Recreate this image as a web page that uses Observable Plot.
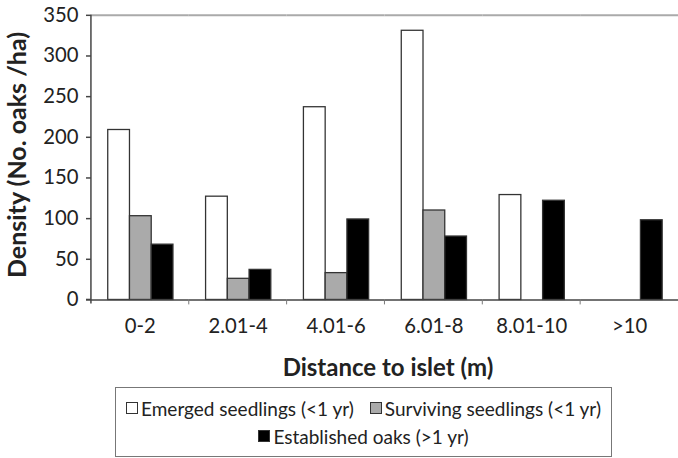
<!DOCTYPE html>
<html>
<head>
<meta charset="utf-8">
<script src="https://cdn.jsdelivr.net/npm/d3@7"></script>
<script src="https://cdn.jsdelivr.net/npm/@observablehq/plot@0.6"></script>
<style>
  html, body { margin: 0; padding: 0; background: #fff; overflow: hidden; }
  #wrap { position: relative; width: 678px; height: 458px; overflow: hidden; font-family: Lato, "Open Sans", sans-serif; color: #222; }
  #chart { position: absolute; left: 0; top: 0; }
  #ytitle { position: absolute; left: 16px; top: 155px; transform: translate(-50%, -50%) rotate(-90deg); white-space: nowrap; font-weight: bold; font-size: 25px; }
  #xtitle { position: absolute; left: 388px; top: 366px; transform: translate(-50%, -50%); white-space: nowrap; font-weight: bold; font-size: 24px; }
  #legend { position: absolute; left: 115px; top: 387px; width: 497px; height: 70px; border: 1.5px solid #777; box-sizing: border-box; font-size: 19px; }
  .row { position: absolute; left: 0; right: 0; display: flex; justify-content: center; align-items: center; white-space: nowrap; }
  .item { display: flex; align-items: center; margin: 0 8px; }
  .sw { width: 12px; height: 12px; border: 1px solid #333; margin-right: 3px; box-sizing: border-box; }
</style>
</head>
<body>
<div id="wrap">
  <div id="chart"></div>
  <div id="ytitle">Density (No. oaks /ha)</div>
  <div id="xtitle">Distance to islet (m)</div>
  <div id="legend"></div>
</div>
<script>
const categories = ["0-2", "2.01-4", "4.01-6", "6.01-8", "8.01-10", ">10"];
const seriesNames = ["Emerged seedlings (<1 yr)", "Surviving seedlings (<1 yr)", "Established oaks (>1 yr)"];
const emerged = [209, 127, 237, 331, 129, 0];
const surviving = [103, 26, 33, 110, 0, 0];
const established = [68, 37, 99, 78, 122, 98];
const yTicks = [0, 50, 100, 150, 200, 250, 300, 350];
const fills = ["#ffffff", "#aaaaaa", "#000000"];

const seriesValues = [emerged, surviving, established];
const data = [];
categories.forEach((c, i) => {
  seriesNames.forEach((s, j) => {
    const v = seriesValues[j][i];
    if (v > 0) data.push({category: c, series: s, value: v});
  });
});

const H = 385;
const plot = Plot.plot({
  width: 686,
  height: H,
  marginLeft: 91,
  marginRight: 0,
  marginTop: 15,
  marginBottom: H - 303,
  style: {fontFamily: "Lato, 'Open Sans', sans-serif", fontSize: "20.5px", color: "#222", background: "transparent"},
  fx: {domain: categories, padding: 0, label: null, tickSize: 0, tickPadding: 19},
  x: {domain: seriesNames, paddingInner: 0, paddingOuter: 0.72, axis: null},
  y: {domain: [0, 350], ticks: yTicks, tickSize: 5, tickPadding: 8, label: null, tickFormat: d => d},
  color: {domain: seriesNames, range: fills},
  facet: {data: data, x: "category"},
  marks: [
    Plot.ruleY([350], {stroke: "#aaaaaa", strokeWidth: 2}),
    Plot.barY(data, {x: "series", y: "value", fill: "series", stroke: "#333", strokeWidth: 1.3}),
    Plot.ruleY([0], {stroke: "#444", strokeWidth: 1.5})
  ]
});
document.getElementById("chart").appendChild(plot);

// axis lines and category boundary ticks using the plot's scales
const fx = plot.scale("fx");
const y = plot.scale("y");
const svg = d3.select(plot);
const y0 = y.apply(0), yTop = y.apply(350);
const left = fx.apply(categories[0]);
const g = svg.append("g").attr("stroke", "#444").attr("stroke-width", 1.5);
g.append("line").attr("x1", left).attr("x2", left).attr("y1", yTop).attr("y2", y0 + 4);
g.append("line").attr("x1", left - 5).attr("x2", left).attr("y1", y0).attr("y2", y0);
categories.slice(1).forEach(c => {
  const xb = fx.apply(c);
  g.append("line").attr("x1", xb).attr("x2", xb).attr("y1", y0).attr("y2", y0 + 5).attr("stroke", "#777").attr("stroke-width", 1);
});
svg.selectAll("[aria-label='y-axis tick'] path, [aria-label='y-axis'] path").attr("stroke", "#444").attr("stroke-width", 1.5);

// legend
const legend = document.getElementById("legend");
const rows = [[0, 1], [2]];
rows.forEach((idxs, r) => {
  const row = document.createElement("div");
  row.className = "row";
  row.style.top = (r === 0 ? 8 : 36) + "px";
  row.style.height = "24px";
  idxs.forEach(j => {
    const it = document.createElement("div");
    it.className = "item";
    const sw = document.createElement("span");
    sw.className = "sw";
    sw.style.background = fills[j];
    it.appendChild(sw);
    const t = document.createElement("span");
    t.textContent = seriesNames[j];
    it.appendChild(t);
    row.appendChild(it);
  });
  legend.appendChild(row);
});
</script>
</body>
</html>
